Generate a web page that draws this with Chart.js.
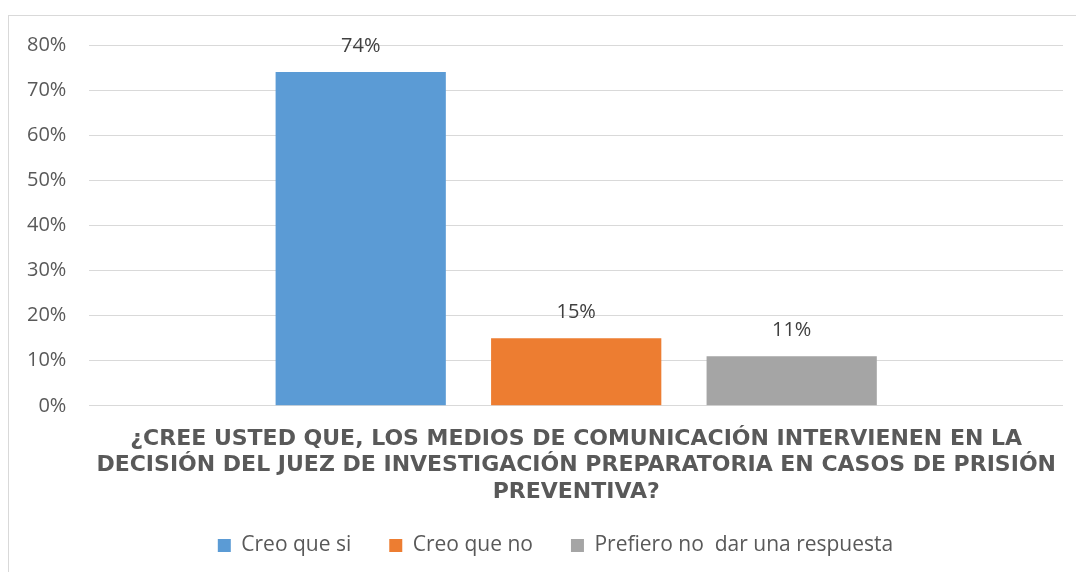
<!DOCTYPE html>
<html lang="es">
<head>
  <meta charset="UTF-8" />
  <title>Medios de comunicación - prisión preventiva</title>
  <script src="https://cdn.jsdelivr.net/npm/chart.js"></script>
  <style>
    body {
      margin: 0;
      padding: 0;
      background: #ffffff;
      overflow: hidden;
    }

    .frame {
      position: absolute;
      left: 8px;
      top: 15px;
      width: 1100px;
      height: 600px;
      border: 1px solid #d9d9d9;
    }

    .wrap {
      position: absolute;
      left: 0;
      top: 0;
      width: 1076px;
      height: 572px;
    }
  </style>
</head>
<body>
  <div class="frame"></div>
  <div class="wrap">
    <canvas id="chart"></canvas>
  </div>

  <script>
    const categories = [''];
    const seriesNames = ['Creo que si', 'Creo que no', 'Prefiero no  dar una respuesta'];
    const seriesValues = [[0.74], [0.15], [0.11]];
    const seriesColors = ['#5B9BD5', '#ED7D31', '#A5A5A5'];
    const axisTitle = [
      '¿CREE USTED QUE, LOS MEDIOS DE COMUNICACIÓN INTERVIENEN EN LA',
      'DECISIÓN DEL JUEZ DE INVESTIGACIÓN PREPARATORIA EN CASOS DE PRISIÓN',
      'PREVENTIVA?'
    ];

    const pct = v => Math.round(v * 100) + '%';
    const bodyFont = '"Open Sans", Lato, sans-serif';

    // simple value labels above each bar
    const valueLabels = {
      id: 'valueLabels',
      afterDatasetsDraw(chart) {
        const ctx = chart.ctx;
        ctx.save();
        ctx.font = '20px ' + bodyFont;
        ctx.fillStyle = '#404040';
        ctx.textAlign = 'center';
        ctx.textBaseline = 'middle';
        chart.data.datasets.forEach((ds, i) => {
          chart.getDatasetMeta(i).data.forEach((bar, j) => {
            ctx.fillText(pct(ds.data[j]), bar.x, bar.y - 26);
          });
        });
        ctx.restore();
      }
    };

    // the legend in the original sits a bit right of the canvas centre
    const legendShift = {
      id: 'legendShift',
      afterLayout(chart) {
        if (chart.legend) {
          chart.legend.left += 22;
          chart.legend.right += 22;
        }
      }
    };

    new Chart(document.getElementById('chart'), {
      type: 'bar',
      data: {
        labels: categories,
        datasets: seriesNames.map((name, i) => ({
          label: name,
          data: seriesValues[i],
          backgroundColor: seriesColors[i],
          barPercentage: 0.79,
          categoryPercentage: 0.664
        }))
      },
      options: {
        responsive: true,
        maintainAspectRatio: false,
        animation: false,
        layout: {
          padding: { left: 4, right: 13, top: 45, bottom: 6 }
        },
        plugins: {
          legend: {
            position: 'bottom',
            labels: {
              boxWidth: 13,
              boxHeight: 13,
              padding: 38,
              color: '#595959',
              font: { size: 21, family: bodyFont }
            }
          },
          tooltip: { enabled: false }
        },
        scales: {
          x: {
            grid: { display: false },
            border: { display: false },
            ticks: { display: false },
            title: {
              display: true,
              text: axisTitle,
              color: '#595959',
              font: { size: 22, weight: 'bold', family: '"DejaVu Sans", sans-serif', lineHeight: 1.2 },
              padding: { top: 12, bottom: -8 }
            }
          },
          y: {
            min: 0,
            max: 0.8,
            grid: { color: '#d9d9d9', lineWidth: 1, drawTicks: false },
            border: { display: false },
            ticks: {
              stepSize: 0.1,
              padding: 23,
              color: '#595959',
              font: { size: 20, family: bodyFont },
              callback: v => pct(v)
            }
          }
        }
      },
      plugins: [valueLabels, legendShift]
    });
  </script>
</body>
</html>
